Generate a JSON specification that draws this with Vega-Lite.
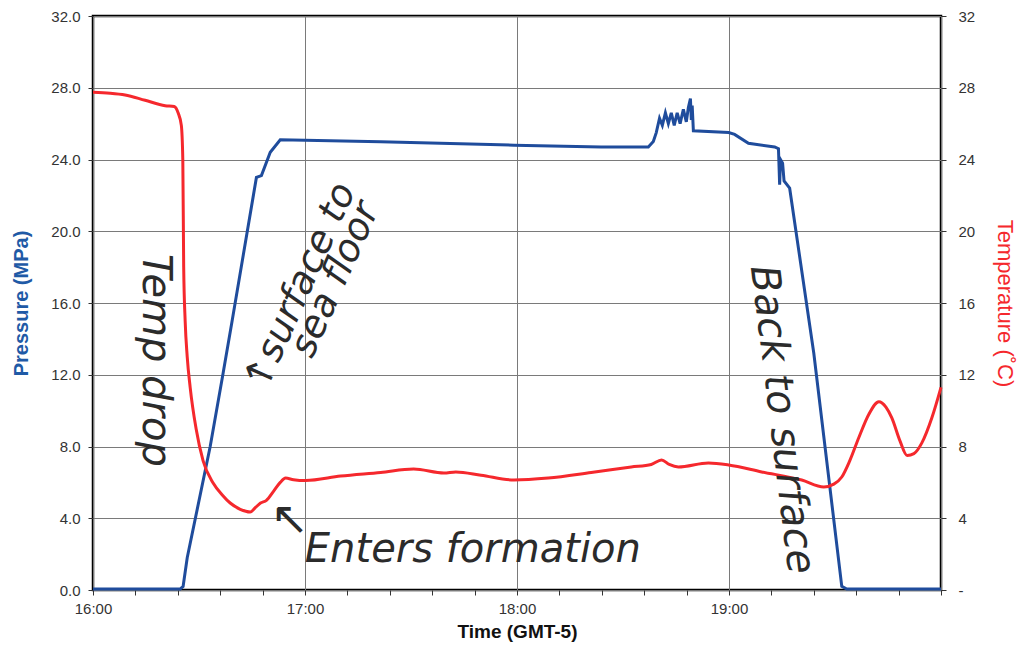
{
  "$schema": "https://vega.github.io/schema/vega-lite/v6.json",
  "width": 848,
  "height": 574,
  "autosize": {"type": "none"},
  "padding": {"left": 93, "top": 16, "right": 80, "bottom": 64},
  "background": "white",
  "config": {
    "font": "Liberation Sans",
    "view": {"stroke": "black", "strokeWidth": 2.5},
    "axis": {
      "labelFont": "Liberation Sans",
      "titleFont": "Liberation Sans",
      "labelFontSize": 15,
      "labelColor": "#333333",
      "tickColor": "#333333",
      "tickSize": 5,
      "domain": false,
      "labelFlush": false,
      "gridColor": "#7a7a7a",
      "gridWidth": 1,
      "gridOpacity": 1
    }
  },
  "datasets": {
    "pressure": [
      {"time": "2024-01-01T16:00:00", "pressure": 0.05},
      {"time": "2024-01-01T16:24:40", "pressure": 0.05},
      {"time": "2024-01-01T16:25:30", "pressure": 0.2},
      {"time": "2024-01-01T16:26:40", "pressure": 1.8},
      {"time": "2024-01-01T16:33:10", "pressure": 8.0},
      {"time": "2024-01-01T16:36:50", "pressure": 12.1},
      {"time": "2024-01-01T16:39:25", "pressure": 15.05},
      {"time": "2024-01-01T16:46:15", "pressure": 23.0},
      {"time": "2024-01-01T16:47:40", "pressure": 23.1},
      {"time": "2024-01-01T16:50:10", "pressure": 24.4},
      {"time": "2024-01-01T16:53:00", "pressure": 25.1},
      {"time": "2024-01-01T17:21:25", "pressure": 24.99},
      {"time": "2024-01-01T17:59:10", "pressure": 24.8},
      {"time": "2024-01-01T18:23:50", "pressure": 24.7},
      {"time": "2024-01-01T18:37:10", "pressure": 24.7},
      {"time": "2024-01-01T18:38:35", "pressure": 25.0},
      {"time": "2024-01-01T18:39:25", "pressure": 25.5},
      {"time": "2024-01-01T18:40:20", "pressure": 26.3},
      {"time": "2024-01-01T18:41:08", "pressure": 25.9},
      {"time": "2024-01-01T18:42:00", "pressure": 26.6},
      {"time": "2024-01-01T18:42:50", "pressure": 26.0},
      {"time": "2024-01-01T18:43:40", "pressure": 26.6},
      {"time": "2024-01-01T18:44:30", "pressure": 25.9},
      {"time": "2024-01-01T18:45:20", "pressure": 26.6},
      {"time": "2024-01-01T18:46:10", "pressure": 26.0},
      {"time": "2024-01-01T18:47:05", "pressure": 26.8},
      {"time": "2024-01-01T18:47:55", "pressure": 26.1},
      {"time": "2024-01-01T18:48:30", "pressure": 26.9},
      {"time": "2024-01-01T18:49:05", "pressure": 27.4},
      {"time": "2024-01-01T18:49:20", "pressure": 26.2},
      {"time": "2024-01-01T18:49:35", "pressure": 27.0},
      {"time": "2024-01-01T18:49:55", "pressure": 25.6},
      {"time": "2024-01-01T18:59:55", "pressure": 25.5},
      {"time": "2024-01-01T19:01:35", "pressure": 25.4},
      {"time": "2024-01-01T19:05:30", "pressure": 24.9},
      {"time": "2024-01-01T19:12:55", "pressure": 24.7},
      {"time": "2024-01-01T19:14:00", "pressure": 24.6},
      {"time": "2024-01-01T19:14:20", "pressure": 22.6},
      {"time": "2024-01-01T19:14:35", "pressure": 24.0},
      {"time": "2024-01-01T19:15:10", "pressure": 23.8},
      {"time": "2024-01-01T19:15:35", "pressure": 22.8},
      {"time": "2024-01-01T19:17:10", "pressure": 22.4},
      {"time": "2024-01-01T19:24:00", "pressure": 13.2},
      {"time": "2024-01-01T19:31:55", "pressure": 0.2},
      {"time": "2024-01-01T19:33:20", "pressure": 0.05},
      {"time": "2024-01-01T20:00:00", "pressure": 0.05}
    ],
    "temperature": [
      {"time": "2024-01-01T16:00:00", "temperature": 27.75},
      {"time": "2024-01-01T16:04:50", "temperature": 27.7},
      {"time": "2024-01-01T16:09:05", "temperature": 27.6},
      {"time": "2024-01-01T16:14:45", "temperature": 27.3},
      {"time": "2024-01-01T16:20:25", "temperature": 27.0},
      {"time": "2024-01-01T16:23:00", "temperature": 26.95},
      {"time": "2024-01-01T16:24:05", "temperature": 26.6},
      {"time": "2024-01-01T16:25:00", "temperature": 25.9},
      {"time": "2024-01-01T16:25:25", "temperature": 24.0},
      {"time": "2024-01-01T16:25:40", "temperature": 18.0},
      {"time": "2024-01-01T16:26:05", "temperature": 15.0},
      {"time": "2024-01-01T16:26:40", "temperature": 13.0},
      {"time": "2024-01-01T16:27:30", "temperature": 11.3},
      {"time": "2024-01-01T16:29:10", "temperature": 9.0},
      {"time": "2024-01-01T16:31:10", "temperature": 7.2},
      {"time": "2024-01-01T16:34:00", "temperature": 5.96},
      {"time": "2024-01-01T16:36:35", "temperature": 5.3},
      {"time": "2024-01-01T16:38:50", "temperature": 4.85},
      {"time": "2024-01-01T16:41:40", "temperature": 4.5},
      {"time": "2024-01-01T16:44:30", "temperature": 4.35},
      {"time": "2024-01-01T16:46:00", "temperature": 4.6},
      {"time": "2024-01-01T16:47:25", "temperature": 4.85},
      {"time": "2024-01-01T16:49:05", "temperature": 5.0},
      {"time": "2024-01-01T16:51:05", "temperature": 5.5},
      {"time": "2024-01-01T16:53:00", "temperature": 6.0},
      {"time": "2024-01-01T16:54:30", "temperature": 6.24},
      {"time": "2024-01-01T16:56:45", "temperature": 6.15},
      {"time": "2024-01-01T17:00:10", "temperature": 6.1},
      {"time": "2024-01-01T17:10:05", "temperature": 6.35},
      {"time": "2024-01-01T17:21:25", "temperature": 6.55},
      {"time": "2024-01-01T17:30:45", "temperature": 6.74},
      {"time": "2024-01-01T17:39:20", "temperature": 6.52},
      {"time": "2024-01-01T17:42:40", "temperature": 6.58},
      {"time": "2024-01-01T17:49:50", "temperature": 6.4},
      {"time": "2024-01-01T17:59:10", "temperature": 6.13},
      {"time": "2024-01-01T18:08:50", "temperature": 6.24},
      {"time": "2024-01-01T18:21:00", "temperature": 6.55},
      {"time": "2024-01-01T18:32:20", "temperature": 6.86},
      {"time": "2024-01-01T18:38:00", "temperature": 7.0},
      {"time": "2024-01-01T18:40:55", "temperature": 7.25},
      {"time": "2024-01-01T18:43:05", "temperature": 7.0},
      {"time": "2024-01-01T18:45:40", "temperature": 6.86},
      {"time": "2024-01-01T18:54:10", "temperature": 7.08},
      {"time": "2024-01-01T18:59:55", "temperature": 6.97},
      {"time": "2024-01-01T19:09:15", "temperature": 6.58},
      {"time": "2024-01-01T19:20:35", "temperature": 6.13},
      {"time": "2024-01-01T19:26:50", "temperature": 5.74},
      {"time": "2024-01-01T19:29:40", "temperature": 5.9},
      {"time": "2024-01-01T19:31:55", "temperature": 6.3},
      {"time": "2024-01-01T19:34:10", "temperature": 7.2},
      {"time": "2024-01-01T19:36:45", "temperature": 8.5},
      {"time": "2024-01-01T19:39:35", "temperature": 9.8},
      {"time": "2024-01-01T19:42:25", "temperature": 10.5},
      {"time": "2024-01-01T19:44:25", "temperature": 10.2},
      {"time": "2024-01-01T19:46:05", "temperature": 9.6},
      {"time": "2024-01-01T19:48:25", "temperature": 8.3},
      {"time": "2024-01-01T19:50:25", "temperature": 7.5},
      {"time": "2024-01-01T19:52:20", "temperature": 7.6},
      {"time": "2024-01-01T19:54:35", "temperature": 8.2},
      {"time": "2024-01-01T19:57:25", "temperature": 9.6},
      {"time": "2024-01-01T20:00:00", "temperature": 11.3}
    ]
  },
  "resolve": {"scale": {"y": "independent"}},
  "layer": [
    {
      "data": {"name": "pressure"},
      "mark": {"type": "line", "color": "#1f4c9c", "strokeWidth": 3, "interpolate": "linear"},
      "encoding": {
        "x": {
          "field": "time",
          "type": "temporal",
          "scale": {"domain": [{"year": 2024, "month": 1, "date": 1, "hours": 16, "minutes": 0}, {"year": 2024, "month": 1, "date": 1, "hours": 20, "minutes": 0}], "nice": false},
          "axis": {
            "title": "Time (GMT-5)",
            "titleFontSize": 19,
            "titleFontWeight": "bold",
            "titleColor": "#111111",
            "titlePadding": 6,
            "labelPadding": 6,
            "values": [
              {"year": 2024, "month": 1, "date": 1, "hours": 16, "minutes": 0},
              {"year": 2024, "month": 1, "date": 1, "hours": 16, "minutes": 12},
              {"year": 2024, "month": 1, "date": 1, "hours": 16, "minutes": 24},
              {"year": 2024, "month": 1, "date": 1, "hours": 16, "minutes": 36},
              {"year": 2024, "month": 1, "date": 1, "hours": 16, "minutes": 48},
              {"year": 2024, "month": 1, "date": 1, "hours": 17, "minutes": 0},
              {"year": 2024, "month": 1, "date": 1, "hours": 17, "minutes": 12},
              {"year": 2024, "month": 1, "date": 1, "hours": 17, "minutes": 24},
              {"year": 2024, "month": 1, "date": 1, "hours": 17, "minutes": 36},
              {"year": 2024, "month": 1, "date": 1, "hours": 17, "minutes": 48},
              {"year": 2024, "month": 1, "date": 1, "hours": 18, "minutes": 0},
              {"year": 2024, "month": 1, "date": 1, "hours": 18, "minutes": 12},
              {"year": 2024, "month": 1, "date": 1, "hours": 18, "minutes": 24},
              {"year": 2024, "month": 1, "date": 1, "hours": 18, "minutes": 36},
              {"year": 2024, "month": 1, "date": 1, "hours": 18, "minutes": 48},
              {"year": 2024, "month": 1, "date": 1, "hours": 19, "minutes": 0},
              {"year": 2024, "month": 1, "date": 1, "hours": 19, "minutes": 12},
              {"year": 2024, "month": 1, "date": 1, "hours": 19, "minutes": 24},
              {"year": 2024, "month": 1, "date": 1, "hours": 19, "minutes": 36},
              {"year": 2024, "month": 1, "date": 1, "hours": 19, "minutes": 48},
              {"year": 2024, "month": 1, "date": 1, "hours": 20, "minutes": 0}
            ],
            "labelExpr": "minutes(datum.value) == 0 && hours(datum.value) < 20 ? timeFormat(datum.value, '%H:%M') : ''",
            "gridOpacity": {"condition": {"test": "minutes(datum.value) == 0", "value": 1}, "value": 0}
          }
        },
        "y": {
          "field": "pressure",
          "type": "quantitative",
          "scale": {"domain": [0, 32], "nice": false, "zero": false},
          "axis": {
            "orient": "left",
            "values": [0, 4, 8, 12, 16, 20, 24, 28, 32],
            "format": ".1f",
            "labelPadding": 8,
            "title": "Pressure (MPa)",
            "titleColor": "#1f5aa6",
            "titleFontSize": 20,
            "titleFontWeight": "bold",
            "titlePadding": 19
          }
        }
      }
    },
    {
      "data": {"name": "temperature"},
      "mark": {"type": "line", "color": "#f5282d", "strokeWidth": 3, "interpolate": "monotone"},
      "encoding": {
        "x": {"field": "time", "type": "temporal"},
        "y": {
          "field": "temperature",
          "type": "quantitative",
          "scale": {"domain": [0, 32], "nice": false, "zero": false},
          "axis": {
            "orient": "right",
            "values": [0, 4, 8, 12, 16, 20, 24, 28, 32],
            "labelExpr": "datum.value == 0 ? '-' : datum.label",
            "labelPadding": 12,
            "grid": false,
            "title": "Temperature (˚C)",
            "titleColor": "#f5282d",
            "titleFontSize": 22,
            "titleFontWeight": "normal",
            "titlePadding": 18
          }
        }
      }
    },
    {
      "data": {"values": [{"time": "2024-01-01T16:17:35", "value": 12.8, "note": "Temp drop"}]},
      "mark": {"type": "text", "angle": 90, "fontSize": 40, "fontStyle": "italic", "font": "DejaVu Sans", "color": "#2b2b2b", "align": "center", "baseline": "middle"},
      "encoding": {
        "x": {"field": "time", "type": "temporal"},
        "y": {"field": "value", "type": "quantitative", "scale": {"domain": [0, 32], "nice": false, "zero": false}, "axis": null},
        "text": {"field": "note"}
      }
    },
    {
      "data": {"values": [{"time": "2024-01-01T16:58:45", "value": 16.9, "note": "↑surface to"}, {"time": "2024-01-01T17:08:40", "value": 17.3, "note": "sea floor"}]},
      "mark": {"type": "text", "angle": -66, "fontSize": 38, "fontStyle": "italic", "font": "DejaVu Sans", "color": "#2b2b2b", "align": "center", "baseline": "middle"},
      "encoding": {
        "x": {"field": "time", "type": "temporal"},
        "y": {"field": "value", "type": "quantitative", "scale": {"domain": [0, 32], "nice": false, "zero": false}, "axis": null},
        "text": {"field": "note"}
      }
    },
    {
      "data": {"values": [{"time": "2024-01-01T19:14:55", "value": 9.5, "note": "Back to surface"}]},
      "mark": {"type": "text", "angle": 83, "fontSize": 40, "fontStyle": "italic", "font": "DejaVu Sans", "color": "#2b2b2b", "align": "center", "baseline": "middle"},
      "encoding": {
        "x": {"field": "time", "type": "temporal"},
        "y": {"field": "value", "type": "quantitative", "scale": {"domain": [0, 32], "nice": false, "zero": false}, "axis": null},
        "text": {"field": "note"}
      }
    },
    {
      "data": {"values": [{"time": "2024-01-01T17:47:30", "value": 2.23, "note": "Enters formation"}]},
      "mark": {"type": "text", "fontSize": 40, "fontStyle": "italic", "font": "DejaVu Sans", "color": "#2b2b2b", "align": "center", "baseline": "middle"},
      "encoding": {
        "x": {"field": "time", "type": "temporal"},
        "y": {"field": "value", "type": "quantitative", "scale": {"domain": [0, 32], "nice": false, "zero": false}, "axis": null},
        "text": {"field": "note"}
      }
    },
    {
      "data": {"values": [{"time": "2024-01-01T16:55:40", "value": 3.9, "note": "↖"}]},
      "mark": {"type": "text", "fontSize": 46, "font": "DejaVu Sans", "color": "#2b2b2b", "align": "center", "baseline": "middle"},
      "encoding": {
        "x": {"field": "time", "type": "temporal"},
        "y": {"field": "value", "type": "quantitative", "scale": {"domain": [0, 32], "nice": false, "zero": false}, "axis": null},
        "text": {"field": "note"}
      }
    }
  ]
}
